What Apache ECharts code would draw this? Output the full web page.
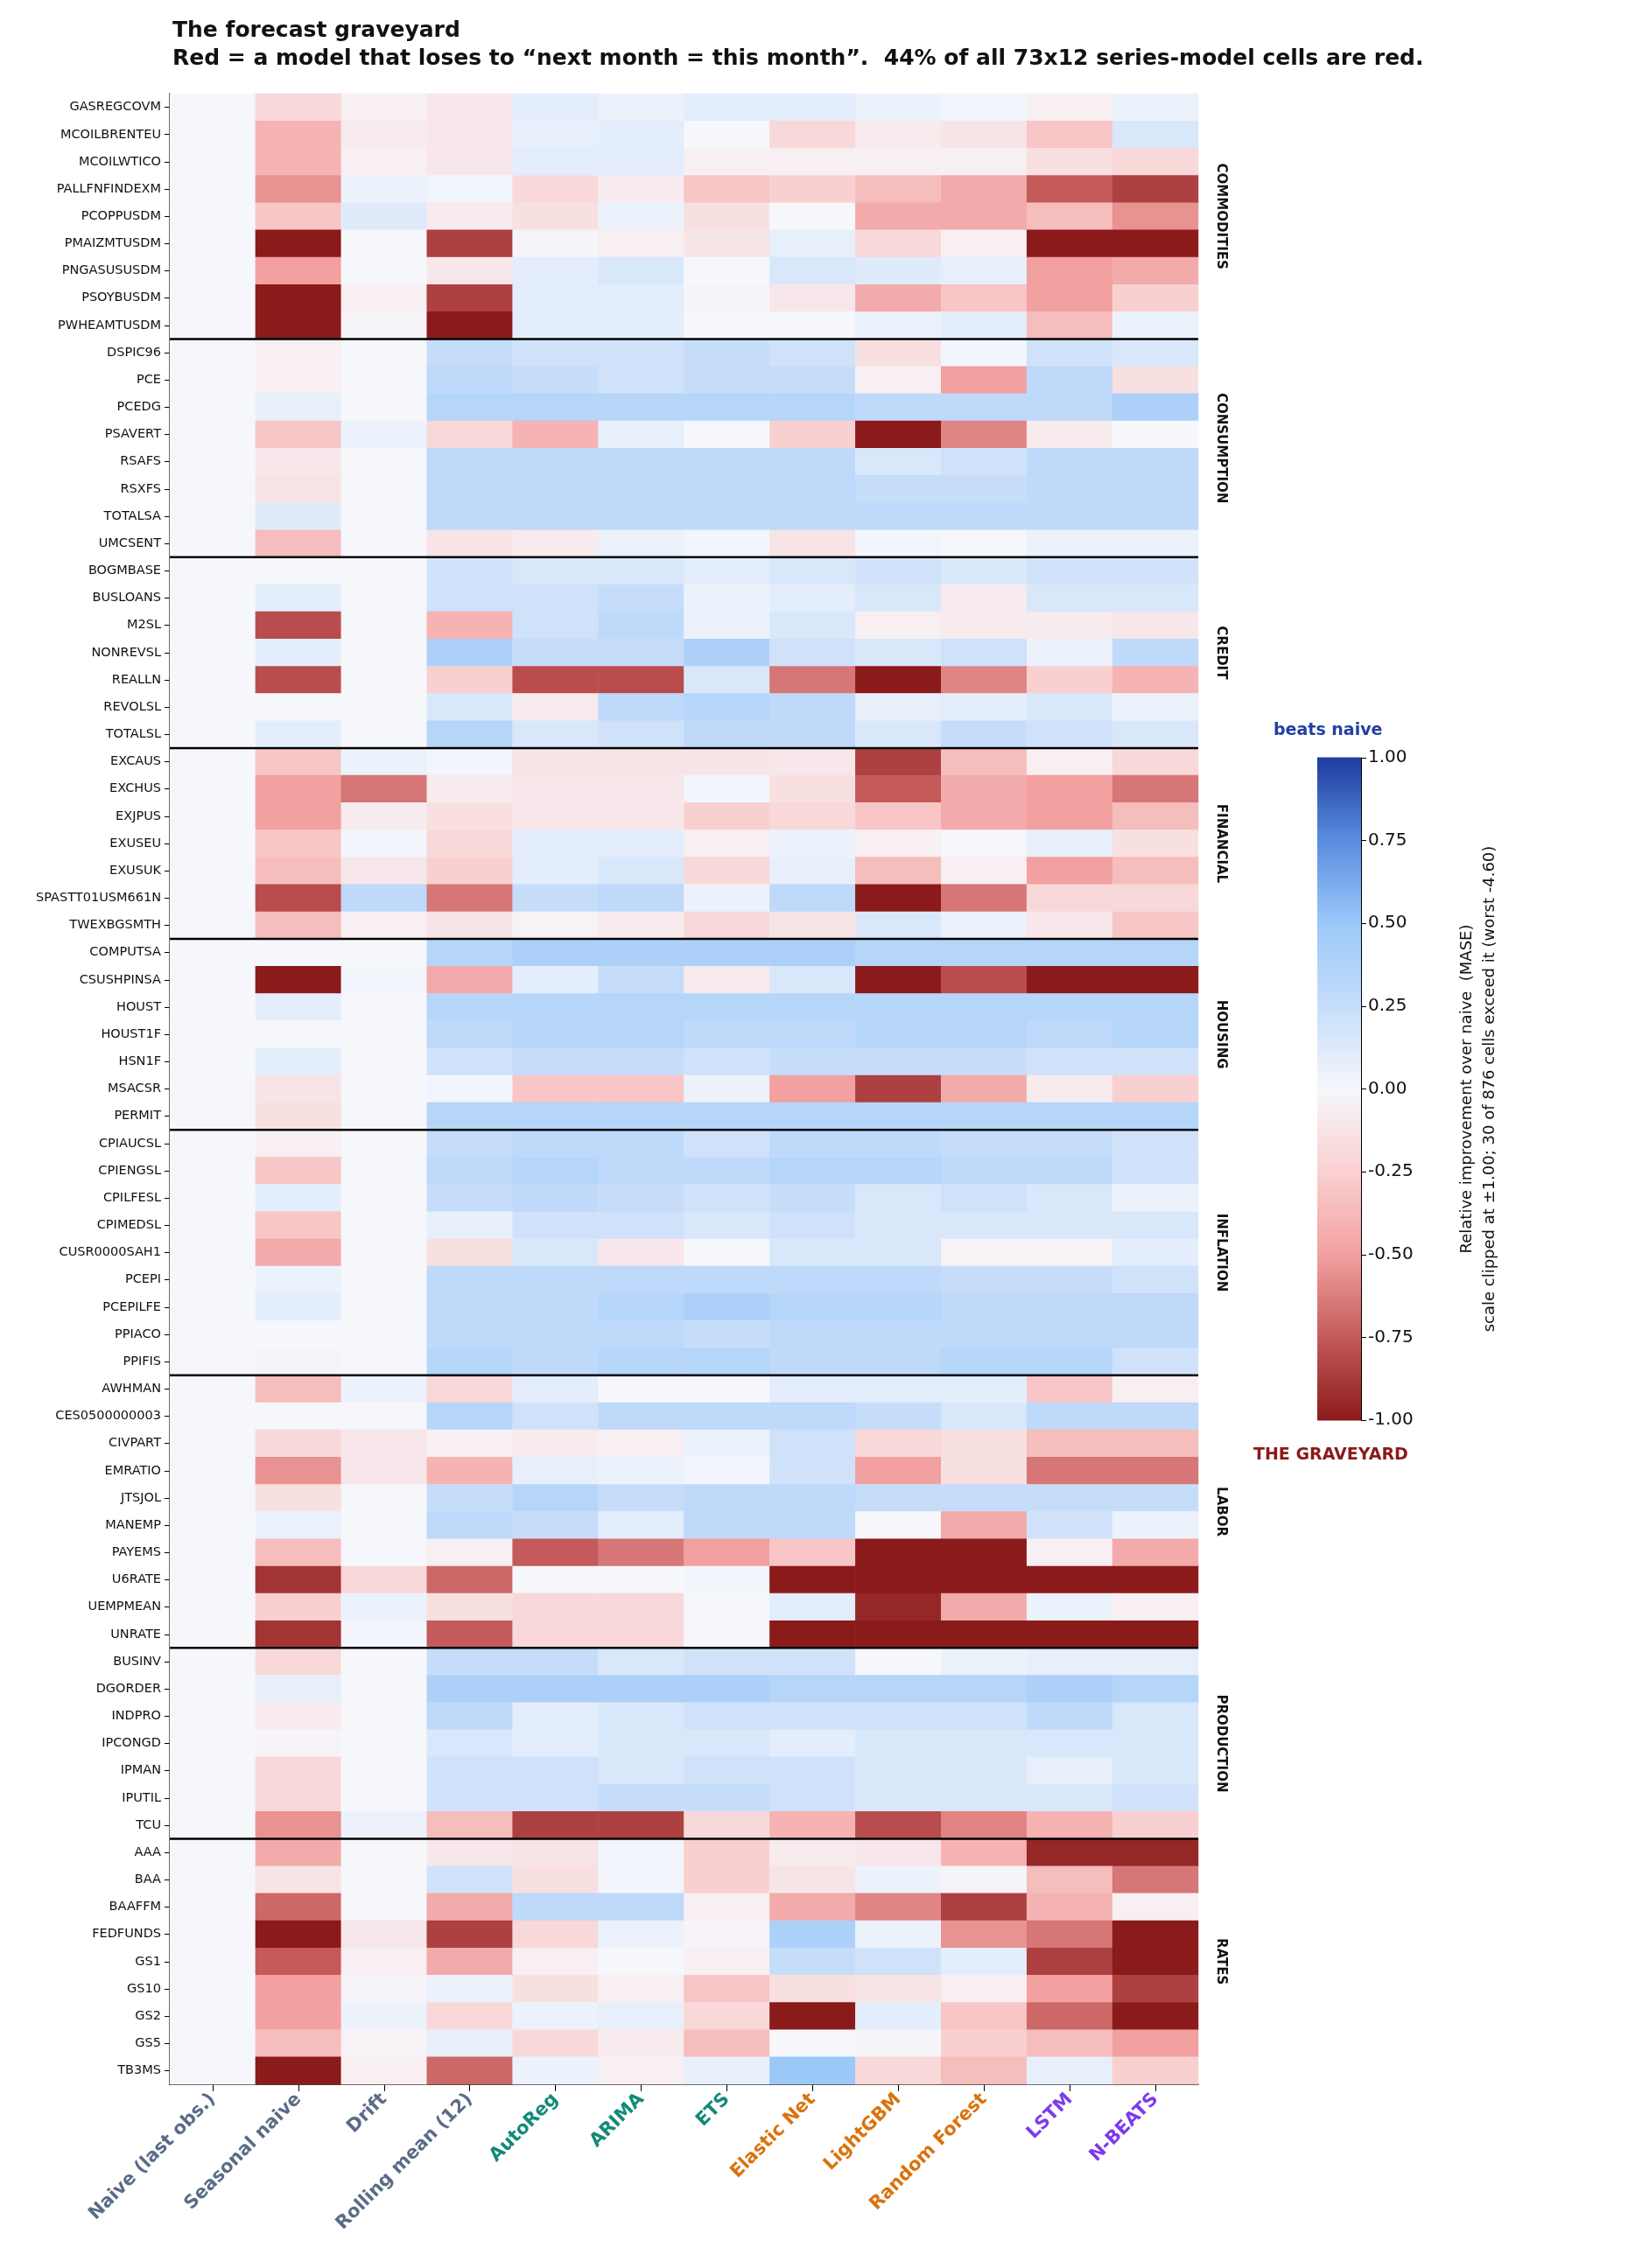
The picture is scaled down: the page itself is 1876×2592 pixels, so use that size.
<!DOCTYPE html>
<html>
<head>
<meta charset="utf-8">
<script src="https://cdn.jsdelivr.net/npm/echarts@6/dist/echarts.min.js"></script>
<style>html,body{margin:0;padding:0;background:#fff}#main{width:1876px;height:2592px}</style>
</head>
<body>
<div id="main"></div>
<script>
// models (columns)
const models = ['Naive (last obs.)', 'Seasonal naive', 'Drift', 'Rolling mean (12)', 'AutoReg', 'ARIMA', 'ETS', 'Elastic Net', 'LightGBM', 'Random Forest', 'LSTM', 'N-BEATS'];
const modelColors = ['#5b6b87', '#5b6b87', '#5b6b87', '#5b6b87', '#138a78', '#138a78', '#138a78', '#d9730d', '#d9730d', '#d9730d', '#7c3aed', '#7c3aed'];

const groups = ['COMMODITIES', 'CONSUMPTION', 'CREDIT', 'FINANCIAL', 'HOUSING', 'INFLATION', 'LABOR', 'PRODUCTION', 'RATES'];

const commodities = {
  GASREGCOVM:    [0, -0.2, -0.05, -0.1, 0.1, 0.05, 0.1, 0.1, 0.05, 0.02, -0.05, 0.05],
  MCOILBRENTEU:  [0, -0.4, -0.08, -0.1, 0.08, 0.1, 0.0, -0.2, -0.08, -0.12, -0.3, 0.15],
  MCOILWTICO:    [0, -0.4, -0.05, -0.1, 0.1, 0.1, -0.05, -0.05, -0.05, -0.05, -0.15, -0.2],
  PALLFNFINDEXM: [0, -0.55, 0.05, 0.03, -0.2, -0.08, -0.3, -0.25, -0.35, -0.45, -0.75, -0.85],
  PCOPPUSDM:     [0, -0.3, 0.12, -0.08, -0.15, 0.05, -0.15, 0.0, -0.45, -0.45, -0.35, -0.55],
  PMAIZMTUSDM:   [0, -1, 0, -0.85, -0.02, -0.05, -0.12, 0.08, -0.2, -0.05, -1, -1],
  PNGASUSUSDM:   [0, -0.5, 0, -0.1, 0.1, 0.15, 0.0, 0.15, 0.12, 0.08, -0.5, -0.45],
  PSOYBUSDM:     [0, -1, -0.05, -0.85, 0.1, 0.1, -0.02, -0.1, -0.45, -0.3, -0.5, -0.25],
  PWHEAMTUSDM:   [0, -1, -0.02, -1, 0.1, 0.1, 0.0, 0.0, 0.05, 0.1, -0.35, 0.05]
};
const consumption = {
  DSPIC96: [0, -0.05, 0, 0.25, 0.2, 0.2, 0.25, 0.2, -0.15, 0.02, 0.2, 0.15],
  PCE:     [0, -0.05, 0, 0.3, 0.25, 0.2, 0.25, 0.25, -0.05, -0.5, 0.3, -0.15],
  PCEDG:   [0, 0.08, 0, 0.35, 0.35, 0.35, 0.35, 0.35, 0.3, 0.3, 0.3, 0.4],
  PSAVERT: [0, -0.3, 0.05, -0.2, -0.4, 0.08, 0.0, -0.25, -1, -0.6, -0.08, 0.0],
  RSAFS:   [0, -0.1, 0, 0.3, 0.3, 0.3, 0.3, 0.3, 0.15, 0.2, 0.3, 0.3],
  RSXFS:   [0, -0.12, 0, 0.3, 0.3, 0.3, 0.3, 0.3, 0.25, 0.25, 0.3, 0.3],
  TOTALSA: [0, 0.12, 0, 0.3, 0.3, 0.3, 0.28, 0.3, 0.3, 0.3, 0.3, 0.3],
  UMCSENT: [0, -0.35, 0, -0.12, -0.08, 0.05, 0.02, -0.12, 0.02, 0.0, 0.05, 0.05]
};
const credit = {
  BOGMBASE: [0, 0, 0, 0.2, 0.15, 0.15, 0.1, 0.15, 0.2, 0.15, 0.2, 0.2],
  BUSLOANS: [0, 0.1, 0, 0.2, 0.2, 0.25, 0.05, 0.1, 0.15, -0.08, 0.15, 0.15],
  M2SL:     [0, -0.8, 0, -0.4, 0.2, 0.3, 0.05, 0.15, -0.05, -0.08, -0.08, -0.1],
  NONREVSL: [0, 0.1, 0, 0.4, 0.25, 0.25, 0.4, 0.2, 0.15, 0.2, 0.05, 0.3],
  REALLN:   [0, -0.8, 0, -0.25, -0.8, -0.8, 0.15, -0.65, -1, -0.6, -0.25, -0.4],
  REVOLSL:  [0, 0, 0, 0.15, -0.08, 0.3, 0.35, 0.3, 0.08, 0.1, 0.15, 0.05],
  TOTALSL:  [0, 0.1, 0, 0.35, 0.15, 0.2, 0.3, 0.3, 0.15, 0.25, 0.2, 0.15]
};
const financial = {
  EXCAUS:          [0, -0.3, 0.05, 0.02, -0.12, -0.12, -0.12, -0.1, -0.85, -0.35, -0.05, -0.2],
  EXCHUS:          [0, -0.5, -0.65, -0.08, -0.1, -0.1, 0.02, -0.15, -0.75, -0.45, -0.5, -0.65],
  EXJPUS:          [0, -0.5, -0.08, -0.15, -0.1, -0.1, -0.25, -0.2, -0.3, -0.45, -0.5, -0.35],
  EXUSEU:          [0, -0.3, 0.02, -0.2, 0.1, 0.1, -0.05, 0.05, -0.05, 0.0, 0.08, -0.15],
  EXUSUK:          [0, -0.35, -0.1, -0.25, 0.1, 0.15, -0.2, 0.08, -0.35, -0.05, -0.5, -0.35],
  SPASTT01USM661N: [0, -0.8, 0.3, -0.65, 0.25, 0.3, 0.05, 0.3, -1, -0.65, -0.2, -0.2],
  TWEXBGSMTH:      [0, -0.35, -0.05, -0.12, -0.03, -0.08, -0.2, -0.12, 0.15, 0.05, -0.1, -0.3]
};
const housing = {
  COMPUTSA:   [0, 0, 0, 0.35, 0.4, 0.4, 0.4, 0.4, 0.35, 0.35, 0.35, 0.35],
  CSUSHPINSA: [0, -1, 0.02, -0.45, 0.1, 0.25, -0.08, 0.15, -1, -0.8, -1, -1],
  HOUST:      [0, 0.1, 0, 0.35, 0.35, 0.35, 0.35, 0.35, 0.35, 0.35, 0.35, 0.35],
  HOUST1F:    [0, 0, 0, 0.3, 0.35, 0.35, 0.3, 0.3, 0.35, 0.35, 0.3, 0.35],
  HSN1F:      [0, 0.1, 0, 0.2, 0.25, 0.25, 0.2, 0.25, 0.25, 0.25, 0.2, 0.2],
  MSACSR:     [0, -0.12, 0, 0.02, -0.3, -0.3, 0.05, -0.5, -0.85, -0.45, -0.08, -0.25],
  PERMIT:     [0, -0.15, 0, 0.35, 0.35, 0.35, 0.35, 0.35, 0.35, 0.35, 0.35, 0.35]
};
const inflation = {
  CPIAUCSL:     [0, -0.05, 0, 0.25, 0.3, 0.3, 0.2, 0.3, 0.3, 0.25, 0.25, 0.2],
  CPIENGSL:     [0, -0.3, 0, 0.3, 0.35, 0.3, 0.3, 0.35, 0.35, 0.3, 0.3, 0.2],
  CPILFESL:     [0, 0.1, 0, 0.25, 0.3, 0.25, 0.2, 0.25, 0.15, 0.2, 0.15, 0.05],
  CPIMEDSL:     [0, -0.3, 0, 0.08, 0.2, 0.2, 0.15, 0.2, 0.15, 0.15, 0.15, 0.15],
  CUSR0000SAH1: [0, -0.45, 0, -0.15, 0.15, -0.1, 0.0, 0.15, 0.15, -0.03, -0.03, 0.1],
  PCEPI:        [0, 0.05, 0, 0.3, 0.3, 0.3, 0.3, 0.3, 0.3, 0.25, 0.25, 0.2],
  PCEPILFE:     [0, 0.1, 0, 0.3, 0.3, 0.35, 0.4, 0.35, 0.35, 0.3, 0.3, 0.3],
  PPIACO:       [0, 0, 0, 0.3, 0.3, 0.3, 0.25, 0.3, 0.3, 0.3, 0.3, 0.3],
  PPIFIS:       [0, -0.02, 0, 0.35, 0.3, 0.35, 0.35, 0.3, 0.3, 0.35, 0.35, 0.2]
};
const labor = {
  AWHMAN:        [0, -0.35, 0.05, -0.2, 0.1, 0.0, 0.0, 0.1, 0.1, 0.1, -0.3, -0.05],
  CES0500000003: [0, 0, 0, 0.35, 0.2, 0.3, 0.3, 0.3, 0.25, 0.15, 0.3, 0.3],
  CIVPART:       [0, -0.2, -0.1, -0.05, -0.08, -0.05, 0.05, 0.2, -0.2, -0.15, -0.35, -0.35],
  EMRATIO:       [0, -0.55, -0.1, -0.4, 0.08, 0.05, 0.02, 0.2, -0.5, -0.15, -0.65, -0.65],
  JTSJOL:        [0, -0.15, 0, 0.25, 0.35, 0.25, 0.3, 0.3, 0.25, 0.25, 0.25, 0.25],
  MANEMP:        [0, 0.05, 0, 0.3, 0.25, 0.1, 0.3, 0.3, 0.0, -0.45, 0.2, 0.05],
  PAYEMS:        [0, -0.35, 0, -0.05, -0.75, -0.65, -0.5, -0.3, -1, -1, -0.05, -0.45],
  U6RATE:        [0, -0.9, -0.2, -0.7, 0.0, 0.0, 0.02, -1, -1, -1, -1, -1],
  UEMPMEAN:      [0, -0.25, 0.05, -0.15, -0.2, -0.2, 0.0, 0.1, -0.95, -0.45, 0.05, -0.05],
  UNRATE:        [0, -0.9, 0.02, -0.75, -0.2, -0.2, 0.0, -1, -1, -1, -1, -1]
};
const production = {
  BUSINV:  [0, -0.2, 0, 0.25, 0.25, 0.15, 0.2, 0.2, 0.0, 0.05, 0.08, 0.08],
  DGORDER: [0, 0.08, 0, 0.4, 0.4, 0.4, 0.4, 0.35, 0.35, 0.35, 0.4, 0.35],
  INDPRO:  [0, -0.08, 0, 0.3, 0.1, 0.15, 0.2, 0.2, 0.2, 0.2, 0.3, 0.15],
  IPCONGD: [0, -0.02, 0, 0.15, 0.1, 0.15, 0.15, 0.1, 0.15, 0.15, 0.15, 0.15],
  IPMAN:   [0, -0.2, 0, 0.2, 0.2, 0.15, 0.2, 0.2, 0.15, 0.15, 0.08, 0.15],
  IPUTIL:  [0, -0.2, 0, 0.2, 0.2, 0.25, 0.25, 0.2, 0.15, 0.15, 0.15, 0.2],
  TCU:     [0, -0.55, 0.05, -0.35, -0.85, -0.85, -0.2, -0.4, -0.8, -0.6, -0.4, -0.25]
};
const rates = {
  AAA:      [0, -0.45, 0, -0.1, -0.12, 0.02, -0.25, -0.08, -0.1, -0.4, -0.95, -0.95],
  BAA:      [0, -0.12, 0, 0.2, -0.15, 0.02, -0.25, -0.12, 0.05, -0.02, -0.35, -0.65],
  BAAFFM:   [0, -0.7, 0, -0.45, 0.3, 0.3, -0.05, -0.45, -0.6, -0.85, -0.4, -0.05],
  FEDFUNDS: [0, -1, -0.1, -0.85, -0.2, 0.05, -0.02, 0.4, 0.05, -0.55, -0.65, -1],
  GS1:      [0, -0.75, -0.05, -0.45, -0.05, 0.0, -0.05, 0.25, 0.2, 0.1, -0.85, -1],
  GS10:     [0, -0.5, -0.02, 0.05, -0.15, -0.05, -0.3, -0.15, -0.12, -0.05, -0.5, -0.85],
  GS2:      [0, -0.5, 0.05, -0.2, 0.05, 0.08, -0.2, -1, 0.1, -0.3, -0.7, -1],
  GS5:      [0, -0.35, -0.03, 0.08, -0.2, -0.08, -0.35, 0.0, -0.02, -0.25, -0.35, -0.5],
  TB3MS:    [0, -1, -0.05, -0.7, 0.05, -0.05, 0.08, 0.5, -0.2, -0.35, 0.08, -0.25]
};
const groupData = [commodities, consumption, credit, financial, housing, inflation, labor, production, rates];

let rows = [];
let cells = [];
let groupSpans = [];
groupData.forEach((g, gi) => {
  const start = rows.length;
  for (let name in g) {
    const r = rows.length;
    rows.push(name);
    g[name].forEach((v, c) => cells.push([c, r, v]));
  }
  groupSpans.push([gi, start, rows.length - 1]);
});

// colour strip for the colorbar
let strip = [];
for (let i = 0; i < 200; i++) {
  const v = -1 + (i + 0.5) * 0.01;
  strip.push([0, v, v]);
}

const myChart = echarts.init(document.getElementById('main'));
const FONT = 'DejaVu Sans';
const option = {
  backgroundColor: '#fff',
  textStyle: { fontFamily: FONT },
  title: {
    text: 'The forecast graveyard\nRed = a model that loses to \u201cnext month = this month\u201d.  44% of all 73x12 series-model cells are red.',
    left: 192, top: 14,
    textStyle: { fontSize: 25, fontWeight: 'bold', color: '#111', lineHeight: 32, fontFamily: FONT }
  },
  visualMap: {
    show: false,
    min: -1, max: 1,
    dimension: 2,
    seriesIndex: [0, 2],
    inRange: { color: ['#8b1a1a', '#c45a5a', '#f2a0a0', '#f9d0d0', '#f6f7fb', '#c6ddfa', '#9cc8f8', '#5a8ee0', '#1f3c9e'] }
  },
  grid: [
    { left: 194, right: 1876 - 1369, top: 107, bottom: 2592 - 2382 },
    { left: 1505, width: 50, top: 866, height: 757 }
  ],
  xAxis: [
    {
      type: 'category', data: models, gridIndex: 0,
      axisLine: { show: true, lineStyle: { color: '#000', width: 1.5 } },
      axisTick: { show: true, alignWithLabel: true, length: 8, lineStyle: { color: '#000' } },
      axisLabel: {
        rotate: 45, interval: 0, fontSize: 21, fontWeight: 'bold', margin: 14,
        color: (val, idx) => modelColors[idx]
      },
      splitLine: { show: false }
    },
    { type: 'category', data: [''], gridIndex: 1, show: false }
  ],
  yAxis: [
    {
      type: 'category', data: rows, inverse: true, gridIndex: 0,
      axisLine: { show: true, lineStyle: { color: '#000', width: 1.5 } },
      axisTick: { show: true, alignWithLabel: true, length: 6, lineStyle: { color: '#000' } },
      axisLabel: { interval: 0, fontSize: 14.5, color: '#111', margin: 10 },
      splitLine: { show: false }
    },
    {
      type: 'value', gridIndex: 1, min: -1, max: 1, interval: 0.25, position: 'right',
      axisLine: { show: true, lineStyle: { color: '#000' } },
      axisTick: { show: true, length: 6, lineStyle: { color: '#000' } },
      axisLabel: { fontSize: 20, color: '#111', formatter: v => v.toFixed(2) },
      splitLine: { show: false },
      name: 'Relative improvement over naive  (MASE)\nscale clipped at \u00b11.00; 30 of 876 cells exceed it (worst -4.60)',
      nameLocation: 'middle', nameRotate: 90, nameGap: 108,
      nameTextStyle: { fontSize: 18, color: '#111', lineHeight: 26, align: 'center' }
    }
  ],
  graphic: [
    { type: 'text', left: 1455, top: 826, style: { text: 'beats naive', fill: '#2440a0', font: 'bold 19px "DejaVu Sans"' } },
    { type: 'text', left: 1432, top: 1654, style: { text: 'THE GRAVEYARD', fill: '#8b1a1a', font: 'bold 19px "DejaVu Sans"' } }
  ],
  series: [
    {
      type: 'heatmap', xAxisIndex: 0, yAxisIndex: 0,
      data: cells, itemStyle: { borderWidth: 0 }, emphasis: { disabled: true }, progressive: 0
    },
    {
      type: 'custom', xAxisIndex: 0, yAxisIndex: 0, silent: true, z: 5,
      data: groupSpans,
      renderItem: (params, api) => {
        const top = api.coord([0, api.value(1)]);
        const bot = api.coord([0, api.value(2)]);
        const cs = api.size([1, 1]);
        const x0 = top[0] - cs[0] / 2;
        const x1 = api.coord([models.length - 1, 0])[0] + cs[0] / 2;
        const yTop = top[1] - cs[1] / 2;
        const yMid = (top[1] + bot[1]) / 2;
        const children = [{
          type: 'text', x: x1 + 26, y: yMid, rotation: -Math.PI / 2,
          style: { text: groups[api.value(0)], fill: '#111', font: 'bold 15px "DejaVu Sans"', align: 'center', verticalAlign: 'middle' }
        }];
        if (api.value(0) > 0) {
          children.push({ type: 'line', shape: { x1: x0, y1: yTop, x2: x1, y2: yTop }, style: { stroke: '#000', lineWidth: 2.5 } });
        }
        return { type: 'group', children };
      }
    },
    {
      type: 'custom', xAxisIndex: 1, yAxisIndex: 1, silent: true,
      data: strip,
      renderItem: (params, api) => {
        const p = api.coord([0, api.value(1)]);
        const s = api.size([1, 0.01]);
        return { type: 'rect', shape: { x: p[0] - s[0] / 2, y: p[1] - s[1] / 2 - 0.5, width: s[0], height: s[1] + 1 }, style: { fill: api.visual('color') } };
      }
    }
  ]
};
myChart.setOption(option);
</script>
</body>
</html>
